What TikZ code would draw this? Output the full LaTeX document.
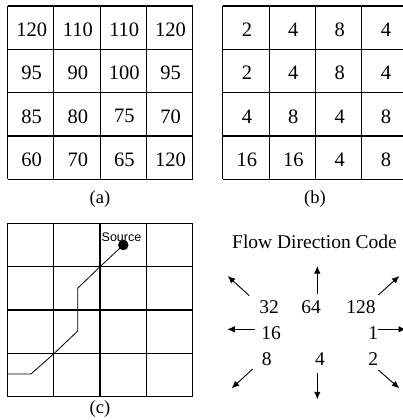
\documentclass[tikz,border=0pt]{standalone}
\usepackage{fontspec}
\setmainfont{Liberation Serif}
\setsansfont{Liberation Sans}
\usetikzlibrary{arrows.meta}
\begin{document}
\begin{tikzpicture}[x=1pt,y=-1pt,
  gridline/.style={line width=1.1pt},
  val/.style={inner sep=0pt,font=\fontsize{20.5}{21}\selectfont},
  sublabel/.style={inner sep=0pt,font=\fontsize{18.5}{20}\selectfont},
  codetext/.style={inner sep=0pt,font=\fontsize{19.5}{20}\selectfont},
  flowarrow/.style={line width=0.9pt,-{Latex[length=7.5pt,width=6.5pt]}},
  pathline/.style={line width=0.8pt}]
\useasboundingbox (0,0) rectangle (402,420);
% ---------- grid (a)
\foreach \i in {0,...,4} {
  \draw[gridline] (7.5+46.3*\i,6) -- (7.5+46.3*\i,179.3);
  \draw[gridline] (7.5,6+43.33*\i) -- (192.7,6+43.33*\i);
}
\foreach \r/\row in {0/{120,110,110,120},1/{95,90,100,95},2/{85,80,75,70},3/{60,70,65,120}} {
  \foreach \v [count=\c from 0] in \row {
    \node[val] (a-\r-\c) at (7.5+46.3*\c+23.15+1,6+43.33*\r+21.67+2) {\v};
  }
}
\node[sublabel] (capa) at (100,199.5) {(a)};
% ---------- grid (b)
\foreach \i in {0,...,4} {
  \draw[gridline] (222.7+46.4*\i,6) -- (222.7+46.4*\i,179.3);
  \draw[gridline] (222.7,6+43.33*\i) -- (408.3,6+43.33*\i);
}
\foreach \r/\row in {0/{2,4,8,4},1/{2,4,8,4},2/{4,8,4,8},3/{16,16,4,8}} {
  \foreach \v [count=\c from 0] in \row {
    \node[val] (b-\r-\c) at (222.7+46.4*\c+23.2+1,6+43.33*\r+21.67+2) {\v};
  }
}
\node[sublabel] (capb) at (315,199.5) {(b)};
% ---------- grid (c)
\foreach \i in {0,...,4} {
  \draw[gridline] (7.3+46.35*\i,223.3) -- (7.3+46.35*\i,396.7);
  \draw[gridline] (7.3,223.3+43.35*\i) -- (192.7,223.3+43.35*\i);
}
\coordinate (p0) at (7.3,374);
\coordinate (p1) at (31,374);
\coordinate (p2) at (54.3,353.3);
\coordinate (p3) at (77.7,331);
\coordinate (p4) at (77.7,288.3);
\coordinate (p5) at (100,266.7);
\node[circle,fill=black,inner sep=0pt,minimum size=10.5pt] (src) at (123.3,245) {};
\draw[pathline] (p0) -- (p1) -- (p2) -- (p3) -- (p4) -- (p5) -- (src.center);
\node[inner sep=0pt,font=\sffamily\fontsize{12.5}{13}\selectfont] (srclabel) at (121.5,236.7) {Source};
\node[sublabel] (capc) at (100,409.5) {(c)};
% ---------- flow direction code
\node[codetext] (title) at (314.5,241.7) {Flow Direction Code};
\node[codetext] (c32) at (269,307.3) {32};
\node[codetext] (c64) at (311,307.3) {64};
\node[codetext] (c128) at (361,307.3) {128};
\node[codetext] (c16) at (271,333.3) {16};
\node[codetext] (c1) at (373.3,333.3) {1};
\node[codetext] (c8) at (266.7,359) {8};
\node[codetext] (c4) at (320,359) {4};
\node[codetext] (c2) at (373.3,359) {2};
\coordinate (nw0) at (249.3,295.7); \coordinate (nw1) at (227.7,276);
\coordinate (n0) at (317.3,294);   \coordinate (n1) at (317.3,266);
\coordinate (ne0) at (378.3,295);  \coordinate (ne1) at (399.3,276);
\coordinate (w0) at (255,329.3);   \coordinate (w1) at (227.3,329.3);
\coordinate (e0) at (378.3,329.3); \coordinate (e1) at (406,329.3);
\coordinate (sw0) at (252.7,369);  \coordinate (sw1) at (231.7,388.3);
\coordinate (s0) at (317.3,372.7); \coordinate (s1) at (317.3,399.3);
\coordinate (se0) at (378.3,370);  \coordinate (se1) at (399.3,388.3);
\foreach \d in {nw,n,ne,w,e,sw,s,se} {
  \draw[flowarrow] (\d0) -- (\d1);
}
\end{tikzpicture}
\end{document}
